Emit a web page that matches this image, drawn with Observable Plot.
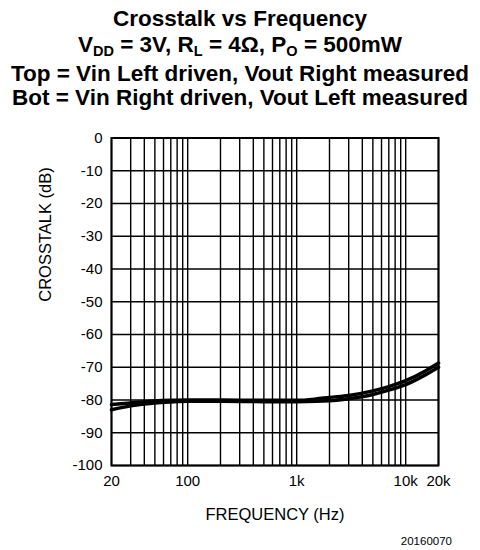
<!DOCTYPE html>
<html>
<head>
<meta charset="utf-8">
<script src="https://cdn.jsdelivr.net/npm/d3@7"></script>
<script src="https://cdn.jsdelivr.net/npm/@observablehq/plot@0.6"></script>
<style>
  html, body { margin: 0; padding: 0; background: #fff; }
  body { width: 480px; height: 550px; overflow: hidden; font-family: "Liberation Sans", Arial, Helvetica, sans-serif; color: #000; }
  #title { position: relative; width: 480px; height: 120px; }
  #title div { position: absolute; left: 0; width: 480px; text-align: center; font-weight: bold; font-size: 22.5px; line-height: 22.5px; white-space: nowrap; }
  #title sub { font-size: 14.5px; vertical-align: baseline; position: relative; top: 4px; }
  #chart svg { display: block; }
  #caption { width: 480px; height: 18px; line-height: 18px; font-size: 11.5px; text-align: right; box-sizing: border-box; padding-right: 28px; }
</style>
</head>
<body>
<div id="title">
  <div style="top:7.5px">Crosstalk vs Frequency</div>
  <div style="top:33.5px">V<sub>DD</sub> = 3V, R<sub>L</sub> = 4Ω, P<sub>O</sub> = 500mW</div>
  <div style="top:62.5px">Top = Vin Left driven, Vout Right measured</div>
  <div style="top:87px">Bot = Vin Right driven, Vout Left measured</div>
</div>
<div id="chart"></div>
<div id="caption">20160070</div>
<script>
// Frequencies (Hz)
const freq = [20, 30, 50, 70, 100, 200, 500, 1000, 1500, 2000, 3000, 5000, 7000, 10000, 15000, 20000];
// Top = Vin Left driven, Vout Right measured (dB)
const topDb = [-81.4, -80.9, -80.3, -80.1, -80.0, -80.0, -80.1, -80.1, -79.7, -79.2, -78.6, -77.2, -75.9, -74.1, -71.2, -68.7];
// Bot = Vin Right driven, Vout Left measured (dB)
const botDb = [-83.0, -81.8, -80.9, -80.6, -80.4, -80.4, -80.5, -80.5, -80.4, -80.2, -79.6, -78.3, -77.0, -75.3, -72.4, -70.0];

const xTicks = [20, 100, 1000, 10000, 20000];
const xTickLabels = ["20", "100", "1k", "10k", "20k"];
const yTicks = [0, -10, -20, -30, -40, -50, -60, -70, -80, -90, -100];
const gridX = [20, 30, 40, 50, 60, 70, 80, 90, 100, 200, 300, 400, 500, 600, 700, 800, 900,
               1000, 2000, 3000, 4000, 5000, 6000, 7000, 8000, 9000, 10000, 20000];
const gridY = yTicks;
const xLabel = "FREQUENCY (Hz)";
const yLabel = "CROSSTALK (dB)";

const topSeries = freq.map((f, i) => ({f, db: topDb[i]}));
const botSeries = freq.map((f, i) => ({f, db: botDb[i]}));

const chart = Plot.plot({
  width: 480,
  height: 412,
  marginLeft: 111,
  marginRight: 42,
  marginTop: 17.5,
  marginBottom: 67,
  x: {type: "log", domain: [20, 20000]},
  y: {domain: [-100, 0]},
  style: {fontFamily: "'Liberation Sans', Arial, Helvetica, sans-serif", fontSize: "15px", color: "#000", background: "#fff", overflow: "visible"},
  marks: [
    Plot.ruleX(gridX, {stroke: "#000", strokeWidth: 1.4, strokeOpacity: 1}),
    Plot.ruleY(gridY, {stroke: "#000", strokeWidth: 1.4, strokeOpacity: 1}),
    Plot.frame({stroke: "#000", strokeWidth: 2}),
    Plot.line(botSeries, {x: "f", y: "db", curve: "monotone-x", stroke: "#000", strokeWidth: 3.5}),
    Plot.line(topSeries, {x: "f", y: "db", curve: "monotone-x", stroke: "#000", strokeWidth: 3.5}),
    Plot.axisX({ticks: xTicks, tickFormat: d => xTickLabels[xTicks.indexOf(d)], tickSize: 0, tickPadding: 10, label: null, fontSize: 15}),
    Plot.axisY({ticks: yTicks, tickFormat: d => `${d}`, tickSize: 0, tickPadding: 9, label: null, fontSize: 15}),
    Plot.text([xLabel], {text: d => d, frameAnchor: "bottom", dy: 54, fontSize: 16.5}),
    Plot.text([yLabel], {text: d => d, frameAnchor: "left", dx: -66, rotate: -90, fontSize: 16.5})
  ]
});
document.getElementById("chart").appendChild(chart);
</script>
</body>
</html>
